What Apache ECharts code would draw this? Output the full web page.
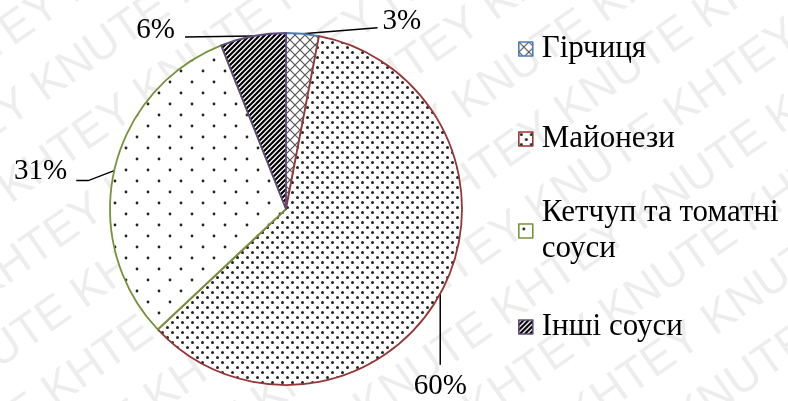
<!DOCTYPE html>
<html><head><meta charset="utf-8">
<script src="https://cdn.jsdelivr.net/npm/echarts@6/dist/echarts.min.js"></script>
<style>html,body{margin:0;padding:0;background:#fff}#c{width:788px;height:401px}</style>
</head><body><div id="c"></div>
<script>
const categories = ['Гірчиця', 'Майонези', 'Кетчуп та томатні соуси', 'Інші соуси'];
const values = [3, 60, 31, 6];
const legendLabels = ['Гірчиця', 'Майонези', 'Кетчуп та томатні\nсоуси', 'Інші соуси'];

const FONT = 'Liberation Serif';
const CX = 286, CY = 209, R = 176;
const borders = ['#4A7EBB', '#953735', '#77933C', '#5F497A'];

function pat(w, h, draw) {
  const c = document.createElement('canvas');
  c.width = w; c.height = h;
  const g = c.getContext('2d');
  g.fillStyle = '#fff'; g.fillRect(0, 0, w, h);
  draw(g, w, h);
  return { image: c, repeat: 'repeat' };
}
function dots(g, pts, r, col) {
  g.fillStyle = col;
  pts.forEach(p => { g.beginPath(); g.arc(p[0], p[1], r, 0, Math.PI * 2); g.fill(); });
}
const patterns = [
  pat(10, 10, (g, w, h) => {
    g.strokeStyle = '#555'; g.lineWidth = 1.2;
    g.beginPath(); g.moveTo(0, 0); g.lineTo(w, h); g.moveTo(w, 0); g.lineTo(0, h); g.stroke();
  }),
  pat(10, 10, g => dots(g, [[2.5, 2.5], [7.5, 7.5]], 1.5, '#222')),
  pat(22, 22, g => dots(g, [[5, 5], [16, 16]], 1.4, '#222')),
  pat(5, 5, (g, w, h) => {
    g.strokeStyle = '#000'; g.lineWidth = 2.2;
    g.beginPath();
    g.moveTo(-w, 2 * h); g.lineTo(2 * w, -h);
    g.moveTo(-2 * w, 2 * h); g.lineTo(w, -h);
    g.moveTo(0, 2 * h); g.lineTo(3 * w, -h);
    g.stroke();
  })
];

// label placement: line end offset from the slice's arc midpoint, label offset from line end
const labelSpec = [
  { mid: null, end: [75, -6], text: [5, -6], align: 'left' },
  { mid: null, end: [0, 71], text: [0, 22], align: 'center' },
  { mid: [-26, 10], end: [-38, 10], text: [-9, -9], align: 'right' },
  { mid: null, end: [-68, 1], text: [-10, -7], align: 'right' }
];
const total = values.reduce((a, b) => a + b, 0);
function arcPoint(i) {
  let cum = 0;
  for (let k = 0; k < i; k++) cum += values[k];
  const a = (cum + values[i] / 2) / total * Math.PI * 2;
  return [CX + R * Math.sin(a), CY - R * Math.cos(a)];
}

const chart = echarts.init(document.getElementById('c'), null, { renderer: 'canvas' });

const legends = categories.map((name, i) => {
  const centers = [49, 139, 231, 327];
  const multi = legendLabels[i].indexOf('\n') >= 0;
  return {
    data: [name],
    orient: 'vertical',
    left: 518,
    top: multi ? centers[i] - 54 : centers[i] - 18,
    padding: 0,
    icon: 'rect',
    itemWidth: 14, itemHeight: 14,
    selectedMode: false,
    itemStyle: { borderWidth: 1.6 },
    formatter: () => legendLabels[i],
    textStyle: {
      fontFamily: FONT, fontSize: 31, color: '#000', lineHeight: 36,
      padding: multi ? [36, 0, 0, 4] : [0, 0, 0, 4]
    }
  };
});

// watermark
const wmRows = [];
for (let r = 0; r < 22; r++) {
  wmRows.push({
    type: 'text',
    x: -900 + (r % 2) * 80,
    y: -700 + r * 64,
    style: {
      text: 'KNUTE KHTEY '.repeat(14),
      font: '46px "Liberation Sans"',
      fill: 'rgba(0,0,0,0.07)'
    },
    silent: true
  });
}

chart.setOption({
  animation: false,
  backgroundColor: '#fff',
  legend: legends,
  graphic: [{
    type: 'group', x: 394, y: 200, rotation: 35 * Math.PI / 180, z: 100, silent: true,
    children: wmRows
  }],
  series: [{
    type: 'pie',
    center: [CX, CY],
    radius: R,
    startAngle: 90,
    clockwise: true,
    avoidLabelOverlap: false,
    emphasis: { disabled: true },
    data: categories.map((name, i) => ({
      name, value: values[i],
      itemStyle: { color: patterns[i], borderColor: borders[i], borderWidth: 1.8 }
    })),
    label: {
      show: true, position: 'outside', formatter: '{c}%',
      fontFamily: FONT, fontSize: 29, color: '#000'
    },
    labelLine: { show: true, lineStyle: { color: '#000', width: 1.5 } },
    labelLayout: function (params) {
      const i = params.dataIndex;
      const s = labelSpec[i];
      const a = arcPoint(i);
      const pts = [a];
      if (s.mid) pts.push([a[0] + s.mid[0], a[1] + s.mid[1]]);
      const e = [a[0] + s.end[0], a[1] + s.end[1]];
      if (!s.mid) pts.push(e);
      pts.push(e);
      return {
        x: e[0] + s.text[0], y: e[1] + s.text[1],
        align: s.align, verticalAlign: 'middle',
        labelLinePoints: pts
      };
    }
  }]
});
</script></body></html>
